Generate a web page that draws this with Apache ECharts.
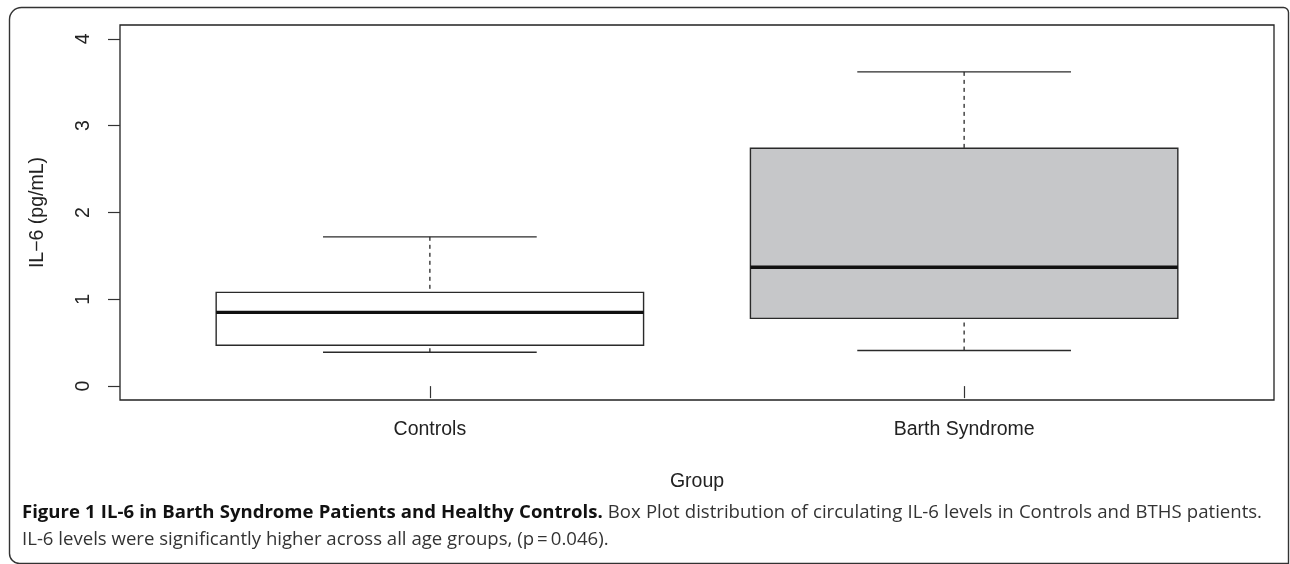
<!DOCTYPE html>
<html>
<head>
<meta charset="utf-8">
<script src="https://cdn.jsdelivr.net/npm/echarts@6/dist/echarts.min.js"></script>
<style>
  html, body { margin: 0; padding: 0; background: #fff; }
  #main { width: 1290px; height: 564px; }
</style>
</head>
<body>
<div id="main"></div>
<script>
  // groups and box statistics
  var groups = ['Controls', 'Barth Syndrome'];
  var positions = [1, 2];
  var lowerWhisker = [0.39, 0.41];
  var q1 = [0.47, 0.78];
  var median = [0.85, 1.37];
  var q3 = [1.08, 2.74];
  var upperWhisker = [1.72, 3.62];
  var boxFill = ['#ffffff', '#c6c7c9'];
  var yTicks = [0, 1, 2, 3, 4];

  var captionBold = 'Figure 1 IL-6 in Barth Syndrome Patients and Healthy Controls.';
  var captionLine1 = 'Box Plot distribution of circulating IL-6 levels in Controls and BTHS patients.';
  var captionLine2 = 'IL-6 levels were significantly higher across all age groups, (p\u2009=\u20090.046).';

  var boxData = positions.map(function (p, i) {
    return [p, lowerWhisker[i], q1[i], median[i], q3[i], upperWhisker[i], i];
  });

  var fontAxis = '"Liberation Sans", Arial, sans-serif';
  var fontCap = '"Open Sans", "Noto Sans", sans-serif';

  // measuring helper, used to size the caption like the journal layout
  var ctx = document.createElement('canvas').getContext('2d');
  function textWidth(str, weight, size) {
    ctx.font = weight + ' ' + size + 'px ' + fontCap;
    return ctx.measureText(str).width;
  }
  var boldSize = 17 * 578 / textWidth(captionBold, 'bold', 17);
  var regSize = 17 * 587 / textWidth(captionLine2, 'normal', 17);

  // caption line 1 runs from x=22 to about x=1262
  function captionWords() {
    var words = [];
    captionBold.split(' ').forEach(function (w) { words.push({ t: w, b: true }); });
    captionLine1.split(' ').forEach(function (w) { words.push({ t: w, b: false }); });
    var total = 0;
    words.forEach(function (w) {
      w.w = w.b ? textWidth(w.t, 'bold', boldSize) : textWidth(w.t, 'normal', regSize);
      total += w.w;
    });
    var gap = (1262 - 22 - total) / (words.length - 1);
    var x = 22, els = [];
    words.forEach(function (w) {
      els.push({
        type: 'text', silent: true, x: x, y: 513,
        style: {
          text: w.t, verticalAlign: 'middle',
          fontFamily: fontCap,
          fontWeight: w.b ? 'bold' : 'normal',
          fontSize: w.b ? boldSize : regSize,
          fill: w.b ? '#111' : '#333'
        }
      });
      x += w.w + gap;
    });
    return els;
  }

  var myChart = echarts.init(document.getElementById('main'));

  function renderBox(params, api) {
    var x = api.value(0);
    var i = api.value(6);
    var bw = 0.4, cw = 0.2; // R boxwex 0.8, staplewex 0.5
    var lw = api.coord([x, api.value(1)]);
    var b1 = api.coord([x - bw, api.value(2)]);
    var b2 = api.coord([x + bw, api.value(4)]);
    var med1 = api.coord([x - bw, api.value(3)]);
    var med2 = api.coord([x + bw, api.value(3)]);
    var uw = api.coord([x, api.value(5)]);
    var c1 = api.coord([x - cw, 0])[0];
    var c2 = api.coord([x + cw, 0])[0];
    var ink = '#2a2a2a';
    var dash = { stroke: ink, lineWidth: 1.3, lineDash: [4, 4] };
    return {
      type: 'group',
      children: [
        { type: 'line', shape: { x1: lw[0], y1: lw[1], x2: lw[0], y2: b1[1] }, style: dash },
        { type: 'line', shape: { x1: uw[0], y1: uw[1], x2: uw[0], y2: b2[1] }, style: dash },
        { type: 'line', shape: { x1: c1, y1: lw[1], x2: c2, y2: lw[1] }, style: { stroke: ink, lineWidth: 1.3 } },
        { type: 'line', shape: { x1: c1, y1: uw[1], x2: c2, y2: uw[1] }, style: { stroke: ink, lineWidth: 1.3 } },
        { type: 'rect', shape: { x: b1[0], y: b2[1], width: b2[0] - b1[0], height: b1[1] - b2[1] },
          style: { fill: boxFill[i], stroke: ink, lineWidth: 1.4 } },
        { type: 'line', shape: { x1: med1[0], y1: med1[1], x2: med2[0], y2: med2[1] }, style: { stroke: '#111', lineWidth: 3.4 } }
      ]
    };
  }

  myChart.setOption({
    animation: false,
    grid: {
      left: 120, right: 16, top: 25, bottom: 164,
      show: true, borderColor: '#222', borderWidth: 1.3, backgroundColor: 'transparent'
    },
    xAxis: {
      type: 'value', min: 0.42, max: 2.58,
      splitLine: { show: false },
      axisLine: { show: false },
      axisTick: { show: true, length: 12, customValues: positions, lineStyle: { color: '#333', width: 1.2 } },
      axisLabel: {
        customValues: positions, margin: 20,
        fontFamily: fontAxis, fontSize: 19.5, color: '#222',
        formatter: function (v) { return groups[positions.indexOf(v)] || ''; }
      },
      name: 'Group', nameLocation: 'middle', nameGap: 72,
      nameTextStyle: { fontFamily: fontAxis, fontSize: 19.5, color: '#222' }
    },
    yAxis: {
      type: 'value', min: -0.16, max: 4.16,
      splitLine: { show: false },
      axisLine: { show: false },
      axisTick: { show: true, length: 12, customValues: yTicks, lineStyle: { color: '#333', width: 1.2 } },
      axisLabel: {
        customValues: yTicks, rotate: 90, margin: 26,
        fontFamily: fontAxis, fontSize: 19.5, color: '#222'
      },
      name: 'IL\u22126 (pg/mL)', nameLocation: 'middle', nameGap: 72,
      nameTextStyle: { fontFamily: fontAxis, fontSize: 19.5, color: '#222' }
    },
    series: [{
      type: 'custom',
      renderItem: renderBox,
      data: boxData,
      encode: { x: 0, y: [1, 5] },
      silent: true
    }],
    graphic: [
      {
        type: 'rect', silent: true,
        shape: { x: 9.5, y: 7.5, width: 1279, height: 556, r: [12, 5, 0, 10] },
        style: { fill: 'none', stroke: '#333', lineWidth: 1.4 }
      },
      {
        type: 'text', silent: true, x: 22, y: 540,
        style: {
          text: captionLine2, verticalAlign: 'middle',
          fontFamily: fontCap, fontSize: regSize, fill: '#333'
        }
      }
    ].concat(captionWords())
  });
</script>
</body>
</html>
